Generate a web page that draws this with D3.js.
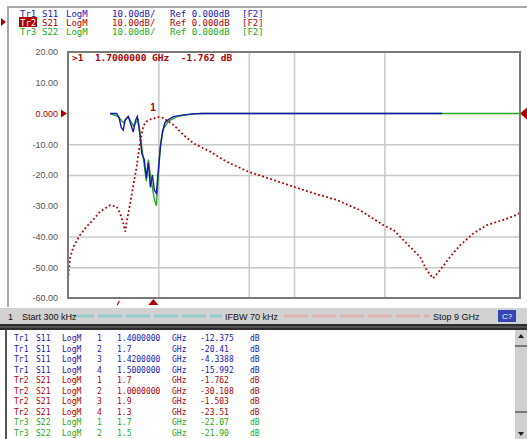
<!DOCTYPE html>
<html>
<head>
<meta charset="utf-8">
<script src="https://cdn.jsdelivr.net/npm/d3@7"></script>
<style>
  body { margin: 0; background: #fff; }
  svg { display: block; }
  .mono { font-family: "DejaVu Sans Mono", "Liberation Mono", monospace; }
  .sans { font-family: "Liberation Sans", Arial, sans-serif; }
</style>
</head>
<body>
<div id="vna"></div>
<script>
// VNA filter sweep - S11 / S21 / S22, log magnitude

////////////////////////////////////////////////////////////////////////////////
// Data
const startGHz = 0.0003;
const stopGHz = 9;
const refDb = 0;

const yTicks = [20, 10, 0, -10, -20, -30, -40, -50, -60];
const yTickLabels = ['20.00', '10.00', '0.000', '-10.00', '-20.00', '-30.00', '-40.00', '-50.00', '-60.00'];
const xGridGHz = [1.8, 3.6, 4.5, 6.3];
const yGridDb = [-10, -20, -40, -50];

// Tr2 S21 (red)
const s21Freq = [0.0003, 0.04, 0.11, 0.24, 0.37, 0.50, 0.64, 0.84, 0.97, 1.04, 1.10, 1.14, 1.17, 1.23, 1.30,
  1.37, 1.43, 1.50, 1.57, 1.63, 1.70, 1.76, 1.83, 1.90, 2.10, 2.30, 2.50, 2.83, 3.16, 3.59, 4.09, 4.49, 4.88,
  5.35, 5.81, 6.28, 6.48, 6.74, 7.01, 7.14, 7.27, 7.41, 7.61, 7.81, 8.07, 8.34, 8.67, 8.93, 9.0];
const s21Db = [-54, -47, -43.3, -39.5, -36.8, -34.6, -31.9, -29.8, -30.3, -32.5, -35.7, -38.4, -35.2, -30, -23.5,
  -17, -10, -4, -2.5, -1.9, -1.762, -1.2, -1.1, -1.5, -3.7, -7, -9.7, -12.4, -15.7, -18.9, -21.6, -23.8, -25.9,
  -28.1, -31.4, -36.3, -37.9, -42.2, -46.6, -50.9, -53.6, -50.9, -46.6, -42.8, -39.0, -36.3, -34.6, -33.0, -32.3];

// Tr1 S11 (blue)
const s11Freq = [0.84, 0.97, 1.02, 1.06, 1.10, 1.14, 1.20, 1.25, 1.30, 1.34, 1.38, 1.43, 1.47, 1.52, 1.56,
  1.60, 1.64, 1.68, 1.72, 1.76, 1.80, 1.84, 1.88, 1.93, 2.00, 2.10, 2.25, 2.45, 2.65, 7.45];
const s11Db = [0, 0, -1.5, -4.5, -5.4, -2, -1, -3.5, -6, -2.5, -1, -6.5, -13, -15, -21,
  -16, -24, -20, -25, -26, -18, -11, -6, -3, -2, -1, -0.6, -0.2, 0, 0];

// Tr3 S22 (green)
const s22Freq = [0.84, 1.00, 1.10, 1.20, 1.30, 1.40, 1.47, 1.52, 1.56, 1.60, 1.64, 1.68, 1.72, 1.76, 1.80,
  1.84, 1.90, 2.00, 2.20, 2.50, 2.70, 9.0];
const s22Db = [0, -1, -3, -1, -4, -2, -11, -17, -22, -15, -20, -24, -28, -30, -20,
  -10, -5, -2.5, -0.8, -0.1, 0, 0];

// trace header lines
const traceNames = ['Tr1', 'Tr2', 'Tr3'];
const traceParams = ['S11', 'S21', 'S22'];
const traceFormats = ['LogM', 'LogM', 'LogM'];
const traceScales = ['10.00dB/', '10.00dB/', '10.00dB/'];
const traceRefs = ['Ref 0.000dB', 'Ref 0.000dB', 'Ref 0.000dB'];
const traceColors = ['#1818b0', '#b00000', '#20a820'];

// active marker
const markerFreq = 1.7;
const markerDb = -1.762;
const marker2Freq = 1.0;

// marker table
const tableTrace = ['Tr1', 'Tr1', 'Tr1', 'Tr1', 'Tr2', 'Tr2', 'Tr2', 'Tr2', 'Tr3', 'Tr3'];
const tableParam = ['S11', 'S11', 'S11', 'S11', 'S21', 'S21', 'S21', 'S21', 'S22', 'S22'];
const tableMkr = ['1', '2', '3', '4', '1', '2', '3', '4', '1', '2'];
const tableStim = ['1.4000000', '1.7', '1.4200000', '1.5000000', '1.7', '1.0000000', '1.9', '1.3', '1.7', '1.5'];
const tableResp = ['-12.375', '-20.41', '-4.3388', '-15.992', '-1.762', '-30.108', '-1.503', '-23.51', '-22.07', '-21.90'];

////////////////////////////////////////////////////////////////////////////////
// Setup
const width = 527;
const height = 439;
const plot = { left: 68, top: 52, right: 520, bottom: 298 };
const red = traceColors[1];

const svg = d3.select('#vna').append('svg')
  .attr('width', width)
  .attr('height', height);

const x = d3.scaleLinear().domain([startGHz, stopGHz]).range([plot.left, plot.right]);
const y = d3.scaleLinear().domain([-60, 20]).range([plot.bottom, plot.top]);

// display frame
svg.append('path')
  .attr('d', `M8,307 V7 H${width}`)
  .attr('fill', 'none')
  .attr('stroke', '#a8a8a8')
  .attr('stroke-width', 2);

////////////////////////////////////////////////////////////////////////////////
// Header lines
// active trace box + arrow go underneath the text
svg.append('rect').attr('x', 19).attr('y', 17).attr('width', 18).attr('height', 10).attr('fill', red);
svg.append('path').attr('d', 'M1,18 L6,22 L1,26 Z').attr('fill', red);

const header = svg.append('g').attr('class', 'mono').attr('font-size', 9);
traceNames.forEach((name, i) => {
  const yy = 17 + i * 9;
  const g = header.append('g').attr('fill', traceColors[i]);
  g.append('text').attr('x', 20).attr('y', yy).attr('fill', i === 1 ? '#fff' : traceColors[i]).text(name);
  g.append('text').attr('x', 42).attr('y', yy).text(traceParams[i]);
  g.append('text').attr('x', 66).attr('y', yy).text(traceFormats[i]);
  g.append('text').attr('x', 112).attr('y', yy).text(traceScales[i]);
  g.append('text').attr('x', 170).attr('y', yy).text(traceRefs[i]);
  g.append('text').attr('x', 242).attr('y', yy).text('[F2]');
});

////////////////////////////////////////////////////////////////////////////////
// Grid + axis labels
const xGrid = svg.append('g')
  .attr('transform', `translate(0,${plot.bottom})`)
  .call(d3.axisBottom(x).tickValues(xGridGHz).tickSize(-(plot.bottom - plot.top)).tickFormat(''));
const yGrid = svg.append('g')
  .attr('transform', `translate(${plot.left},0)`)
  .call(d3.axisLeft(y).tickValues(yGridDb).tickSize(-(plot.right - plot.left)).tickFormat(''));
[xGrid, yGrid].forEach(g => {
  g.select('.domain').remove();
  g.selectAll('line').attr('stroke', '#c8c8c8').attr('stroke-width', 1.5);
});

const yAxis = svg.append('g')
  .attr('class', 'sans')
  .attr('transform', 'translate(58,0)')
  .call(d3.axisLeft(y).tickValues(yTicks).tickSize(0).tickPadding(0)
    .tickFormat((d, i) => yTickLabels[i]));
yAxis.select('.domain').remove();
yAxis.selectAll('text')
  .attr('font-size', 9)
  .attr('font-family', '"Liberation Sans", Arial, sans-serif')
  .attr('fill', d => d === refDb ? red : '#555');

// reference position arrows
svg.append('path')
  .attr('d', `M61,${y(refDb) - 4} L67,${y(refDb)} L61,${y(refDb) + 4} Z`)
  .attr('fill', red);
svg.append('path')
  .attr('d', `M${width},${y(refDb) - 6} L${plot.right},${y(refDb)} L${width},${y(refDb) + 6} Z`)
  .attr('fill', red);

////////////////////////////////////////////////////////////////////////////////
// Traces
const line = d3.line().x(d => x(d[0])).y(d => y(d[1]));

svg.append('path')
  .datum(d3.zip(s22Freq, s22Db))
  .attr('fill', 'none')
  .attr('stroke', traceColors[2])
  .attr('stroke-width', 1.4)
  .attr('d', line);

svg.append('path')
  .datum(d3.zip(s11Freq, s11Db))
  .attr('fill', 'none')
  .attr('stroke', traceColors[0])
  .attr('stroke-width', 1.4)
  .attr('d', line);

svg.append('path')
  .datum(d3.zip(s21Freq, s21Db))
  .attr('fill', 'none')
  .attr('stroke', red)
  .attr('stroke-width', 1.8)
  .attr('stroke-dasharray', '1.8,2.4')
  .attr('d', line);

// plot frame
svg.append('rect')
  .attr('x', plot.left).attr('y', plot.top)
  .attr('width', plot.right - plot.left).attr('height', plot.bottom - plot.top)
  .attr('fill', 'none')
  .attr('stroke', '#7a7a7a')
  .attr('stroke-width', 2);

////////////////////////////////////////////////////////////////////////////////
// Markers
const mx = x(markerFreq);
svg.append('text')
  .attr('class', 'sans')
  .attr('x', mx - 3).attr('y', y(markerDb) - 8)
  .attr('font-size', 10).attr('font-weight', 'bold')
  .attr('fill', red)
  .text('1');
svg.append('path')
  .attr('d', `M${mx - 5},305 L${mx},299 L${mx + 5},305 Z`)
  .attr('fill', red);
svg.append('line')
  .attr('x1', x(marker2Freq) - 1).attr('y1', 305)
  .attr('x2', x(marker2Freq) + 1).attr('y2', 301)
  .attr('stroke', red).attr('stroke-width', 1.2);

svg.append('text')
  .attr('class', 'mono')
  .attr('x', 72).attr('y', 61)
  .attr('font-size', 9.5).attr('font-weight', 'bold')
  .attr('fill', red)
  .attr('xml:space', 'preserve')
  .text(`>1  ${markerFreq.toFixed(7)} GHz  ${markerDb.toFixed(3)} dB`);

////////////////////////////////////////////////////////////////////////////////
// Status bar
svg.append('rect').attr('x', 0).attr('y', 308).attr('width', width).attr('height', 16).attr('fill', '#d2d2d2');
svg.append('line').attr('x1', 70).attr('x2', 222).attr('y1', 316).attr('y2', 316)
  .attr('stroke', '#93cccc').attr('stroke-width', 3).attr('stroke-dasharray', '24,4');
svg.append('line').attr('x1', 284).attr('x2', 430).attr('y1', 316).attr('y2', 316)
  .attr('stroke', '#e2b2b2').attr('stroke-width', 3).attr('stroke-dasharray', '24,4');

const status = svg.append('g').attr('class', 'sans').attr('font-size', 9).attr('fill', '#111');
status.append('text').attr('x', 8).attr('y', 320).text('1');
status.append('text').attr('x', 22).attr('y', 320).text(`Start ${startGHz * 1e6} kHz`);
status.append('text').attr('x', 225).attr('y', 320).text('IFBW 70 kHz');
status.append('text').attr('x', 433).attr('y', 320).text(`Stop ${stopGHz} GHz`);
svg.append('rect').attr('x', 498).attr('y', 310).attr('width', 18).attr('height', 12).attr('fill', '#3545b5');
svg.append('text').attr('class', 'sans').attr('x', 507).attr('y', 319)
  .attr('font-size', 8).attr('fill', '#fff').attr('text-anchor', 'middle').text('C?');

////////////////////////////////////////////////////////////////////////////////
// Marker table panel
svg.append('rect').attr('x', 0).attr('y', 324).attr('width', width).attr('height', 6).attr('fill', '#2e2e2e');
svg.append('line').attr('x1', 0).attr('x2', width).attr('y1', 327).attr('y2', 327).attr('stroke', '#777');
svg.append('rect').attr('x', 5).attr('y', 330).attr('width', 2).attr('height', height - 330).attr('fill', '#555');

// scrollbar
svg.append('rect').attr('x', 515).attr('y', 330).attr('width', 12).attr('height', height - 330).attr('fill', '#d0d0d0');
svg.append('path').attr('d', 'M518,338 L521,334 L524,338 Z').attr('fill', '#222');
svg.append('path').attr('d', 'M518,432 L521,436 L524,432 Z').attr('fill', '#222');
svg.append('line').attr('x1', 515).attr('x2', 527).attr('y1', 346).attr('y2', 346).attr('stroke', '#222');
svg.append('line').attr('x1', 515).attr('x2', 527).attr('y1', 412).attr('y2', 412).attr('stroke', '#222');

const rowColor = t => traceColors[traceNames.indexOf(t)];
const table = svg.append('g').attr('class', 'mono').attr('font-size', 8);
tableTrace.forEach((t, i) => {
  const yy = 341 + i * 10.5;
  const g = table.append('g').attr('fill', rowColor(t));
  g.append('text').attr('x', 14).attr('y', yy).text(t);
  g.append('text').attr('x', 36).attr('y', yy).text(tableParam[i]);
  g.append('text').attr('x', 62).attr('y', yy).text('LogM');
  g.append('text').attr('x', 97).attr('y', yy).text(tableMkr[i]);
  g.append('text').attr('x', 117).attr('y', yy).text(tableStim[i]);
  g.append('text').attr('x', 172).attr('y', yy).text('GHz');
  g.append('text').attr('x', 200).attr('y', yy).text(tableResp[i]);
  g.append('text').attr('x', 250).attr('y', yy).text('dB');
});
</script>
</body>
</html>
